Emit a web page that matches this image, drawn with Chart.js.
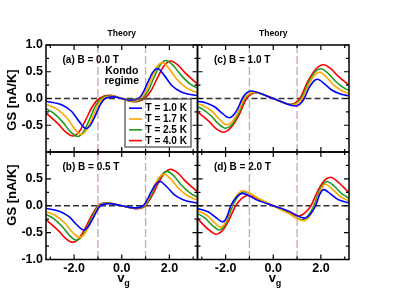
<!DOCTYPE html>
<html><head><meta charset="utf-8">
<script src="https://cdn.jsdelivr.net/npm/chart.js@4.4.1/dist/chart.umd.min.js"></script>
<style>
html,body{margin:0;padding:0;background:#fff;}
#wrap{position:relative;width:395px;height:305px;overflow:hidden;background:#fff;}
#wrap canvas{position:absolute;left:0;top:0;}
</style></head><body>
<div id="wrap">
<canvas id="cA" width="395" height="305"></canvas>
<canvas id="cB" width="395" height="305"></canvas>
<canvas id="cC" width="395" height="305"></canvas>
<canvas id="cD" width="395" height="305"></canvas>
</div>
<script>
// ---------------- data ----------------
const seriesNames = ['T = 1.0 K', 'T = 1.7 K', 'T = 2.5 K', 'T = 4.0 K'];
const panelTitles = ['(a) B = 0.0 T', '(b) B = 0.5 T', '(c) B = 1.0 T', '(d) B = 2.0 T'];
const xTickValues = [-2, 0, 2];
const xMinorTickValues = [-3, -1, 1, 3];
const dividerValues = [-1, 1];
const yTickValuesTop = [1, 0.5, 0, -0.5];
const yTickValuesBottom = [0.5, 0, -0.5, -1];

// Panel (a) B = 0.0 T
const vgA_T10 = [-3.18,-2.5,-2.1,-1.8,-1.5,-1.3,-1.1,-0.9,-0.7,-0.35,0,0.35,0.7,0.9,1.1,1.3,1.5,1.8,2.1,2.5,3.18];
const gsA_T10 = [-0.05,-0.122,-0.244,-0.423,-0.56,-0.488,-0.309,-0.115,0,0.03,0,-0.03,0,0.115,0.309,0.488,0.56,0.423,0.244,0.122,0.05];
const vgA_T17 = [-3.18,-2.7,-2.3,-2.0,-1.7,-1.47,-1.24,-1.01,-0.78,-0.39,0,0.39,0.78,1.01,1.24,1.47,1.7,2.0,2.3,2.7,3.18];
const gsA_T17 = [-0.11,-0.202,-0.365,-0.554,-0.67,-0.584,-0.37,-0.137,0,0.04,0,-0.04,0,0.137,0.37,0.584,0.67,0.554,0.365,0.202,0.11];
const vgA_T25 = [-3.18,-2.85,-2.45,-2.15,-1.85,-1.6,-1.355,-1.11,-0.86,-0.43,0,0.43,0.86,1.11,1.355,1.6,1.85,2.15,2.45,2.85,3.18];
const gsA_T25 = [-0.19,-0.279,-0.456,-0.623,-0.71,-0.618,-0.392,-0.146,0,0.05,0,-0.05,0,0.146,0.392,0.618,0.71,0.623,0.456,0.279,0.19];
const vgA_T40 = [-3.18,-2.65,-2.35,-2.05,-1.775,-1.5,-1.225,-0.95,-0.47,0,0.47,0.95,1.225,1.5,1.775,2.05,2.35,2.65,3.18];
const gsA_T40 = [-0.27,-0.483,-0.629,-0.70,-0.61,-0.386,-0.144,0,0.06,0,-0.06,0,0.144,0.386,0.61,0.70,0.629,0.483,0.27];

// Panel (b) B = 0.5 T
const vgB_T10 = [-3.18,-2.6,-2.2,-1.9,-1.6,-1.425,-1.25,-1.075,-0.9,-0.55,0,0.55,0.9,1.075,1.25,1.425,1.6,1.9,2.2,2.6,3.18];
const gsB_T10 = [-0.05,-0.107,-0.209,-0.349,-0.45,-0.40,-0.272,-0.119,0,0.04,0,-0.04,0,0.119,0.272,0.40,0.45,0.349,0.209,0.107,0.05];
const vgB_T17 = [-3.18,-2.77,-2.37,-2.07,-1.77,-1.5625,-1.355,-1.1475,-0.94,-0.58,0,0.58,0.94,1.1475,1.355,1.5625,1.77,2.07,2.37,2.77,3.18];
const gsB_T17 = [-0.11,-0.185,-0.33,-0.493,-0.59,-0.525,-0.356,-0.156,0,0.045,0,-0.045,0,0.156,0.356,0.525,0.59,0.493,0.33,0.185,0.11];
const vgB_T25 = [-3.18,-2.9,-2.5,-2.2,-1.9,-1.6675,-1.435,-1.2025,-0.97,-0.6,0,0.6,0.97,1.2025,1.435,1.6675,1.9,2.2,2.5,2.9,3.18];
const gsB_T25 = [-0.16,-0.226,-0.386,-0.549,-0.64,-0.569,-0.387,-0.169,0,0.05,0,-0.05,0,0.169,0.387,0.569,0.64,0.549,0.386,0.226,0.16];
const vgB_T40 = [-3.18,-2.65,-2.35,-2.05,-1.7875,-1.525,-1.2625,-1.0,-0.62,0,0.62,1.0,1.2625,1.525,1.7875,2.05,2.35,2.65,3.18];
const gsB_T40 = [-0.26,-0.467,-0.61,-0.68,-0.605,-0.411,-0.18,0,0.055,0,-0.055,0,0.18,0.411,0.605,0.68,0.61,0.467,0.26];

// Panel (c) B = 1.0 T
const vgC_T10 = [-3.18,-2.85,-2.45,-2.15,-1.85,-1.69,-1.49,-1.3,-1.125,-0.95,0,0.95,1.125,1.3,1.49,1.69,1.85,2.15,2.45,2.85,3.18];
const gsC_T10 = [-0.05,-0.08,-0.159,-0.274,-0.36,-0.321,-0.188,0,0.099,0.14,0,-0.14,-0.099,0,0.188,0.321,0.36,0.274,0.159,0.08,0.05];
const vgC_T17 = [-3.18,-2.95,-2.55,-2.25,-1.95,-1.73,-1.48,-1.22,-1.02,-0.82,0,0.82,1.02,1.22,1.48,1.73,1.95,2.25,2.55,2.95,3.18];
const gsC_T17 = [-0.095,-0.131,-0.246,-0.393,-0.49,-0.437,-0.256,0,0.085,0.12,0,-0.12,-0.085,0,0.256,0.437,0.49,0.393,0.246,0.131,0.095];
const vgC_T25 = [-3.18,-3.0,-2.6,-2.3,-2.0,-1.75,-1.47,-1.18,-0.99,-0.8,0,0.8,0.99,1.18,1.47,1.75,2.0,2.3,2.6,3.0,3.18];
const gsC_T25 = [-0.15,-0.189,-0.327,-0.472,-0.555,-0.495,-0.29,0,0.081,0.115,0,-0.115,-0.081,0,0.29,0.495,0.555,0.472,0.327,0.189,0.15];
const vgC_T40 = [-3.18,-2.7,-2.4,-2.1,-1.81,-1.46,-1.12,-0.935,-0.75,0,0.75,0.935,1.12,1.46,1.81,2.1,2.4,2.7,3.18];
const gsC_T40 = [-0.25,-0.429,-0.564,-0.63,-0.561,-0.329,0,0.078,0.11,0,-0.11,-0.078,0,0.329,0.561,0.63,0.564,0.429,0.25];

// Panel (d) B = 2.0 T
const vgD_T10 = [-3.18,-2.72,-2.42,-2.12,-1.95,-1.78,-1.54,-1.3,-0.65,0,0.65,1.3,1.54,1.78,1.95,2.12,2.42,2.72,3.18];
const gsD_T10 = [-0.05,-0.115,-0.214,-0.30,-0.212,0,0.163,0.23,0.10,0,-0.10,-0.23,-0.163,0,0.212,0.30,0.214,0.115,0.05];
const vgD_T17 = [-3.18,-2.79,-2.49,-2.19,-1.98,-1.76,-1.52,-1.28,-0.64,0,0.64,1.28,1.52,1.76,1.98,2.19,2.49,2.79,3.18];
const gsD_T17 = [-0.09,-0.177,-0.304,-0.40,-0.283,0,0.198,0.28,0.14,0,-0.14,-0.28,-0.198,0,0.283,0.40,0.304,0.177,0.09];
const vgD_T25 = [-3.18,-2.86,-2.56,-2.26,-1.98,-1.7,-1.46,-1.22,-0.61,0,0.61,1.22,1.46,1.7,1.98,2.26,2.56,2.86,3.18];
const gsD_T25 = [-0.14,-0.232,-0.364,-0.45,-0.318,0,0.184,0.26,0.13,0,-0.13,-0.26,-0.184,0,0.318,0.45,0.364,0.232,0.14];
const vgD_T40 = [-3.18,-2.7,-2.4,-2.15,-1.87,-1.58,-1.33,-1.08,-0.54,0,0.54,1.08,1.33,1.58,1.87,2.15,2.4,2.7,3.18];
const gsD_T40 = [-0.24,-0.45,-0.53,-0.472,-0.277,0,0.134,0.19,0.095,0,-0.095,-0.19,-0.134,0,0.277,0.472,0.53,0.45,0.24];

// ---------------- styling / layout ----------------
const FONT = '"Liberation Sans", Arial, Helvetica, sans-serif';
const lineColors = ['#0000ff', '#ffa500', '#1f9a1f', '#ff0000'];

function pts(xs, ys) { return xs.map((v, i) => ({x: v, y: ys[i]})); }

const guides = {
  id: 'guides',
  beforeDatasetsDraw(chart) {
    const {ctx, chartArea: a, scales: {x, y}} = chart;
    ctx.save();
    ctx.beginPath(); ctx.rect(a.left, a.top, a.right - a.left, a.bottom - a.top); ctx.clip();
    ctx.strokeStyle = '#cfa5a5'; ctx.lineWidth = 1.3; ctx.setLineDash([8, 3]);
    dividerValues.forEach(v => {
      const px = x.getPixelForValue(v);
      ctx.beginPath(); ctx.moveTo(px, a.top); ctx.lineTo(px, a.bottom); ctx.stroke();
    });
    ctx.strokeStyle = '#333'; ctx.lineWidth = 1.4; ctx.setLineDash([6, 3]);
    const py = y.getPixelForValue(0);
    ctx.beginPath(); ctx.moveTo(a.left, py); ctx.lineTo(a.right, py); ctx.stroke();
    ctx.restore();
  },
  afterDraw(chart, args, o) {
    const {ctx, chartArea: a, scales: {x, y}} = chart;
    ctx.save();
    ctx.strokeStyle = '#000'; ctx.lineWidth = 1.5; ctx.setLineDash([]);
    ctx.strokeRect(a.left, a.top, a.right - a.left, a.bottom - a.top);
    ctx.lineWidth = 1.2;
    const xt = xTickValues.map(v => [v, 5]).concat(xMinorTickValues.map(v => [v, 3]));
    xt.forEach(([v, len]) => {
      const px = x.getPixelForValue(v);
      ctx.beginPath();
      ctx.moveTo(px, a.bottom); ctx.lineTo(px, a.bottom - len);
      ctx.moveTo(px, a.top); ctx.lineTo(px, a.top + len);
      ctx.stroke();
    });
    for (let k = -4; k <= 4; k++) {
      const v = k * 0.25;
      const len = (k % 2 === 0) ? 5 : 3;
      const py = y.getPixelForValue(v);
      ctx.beginPath();
      ctx.moveTo(a.left, py); ctx.lineTo(a.left + len, py);
      ctx.moveTo(a.right, py); ctx.lineTo(a.right - len, py);
      ctx.stroke();
    }
    ctx.fillStyle = '#000';
    ctx.font = 'bold 10px ' + FONT; ctx.textAlign = 'left'; ctx.textBaseline = 'middle';
    ctx.fillText(o.label, a.left + 16.5, a.top + 15);
    const cx = (a.left + a.right) / 2;
    if (o.top) {
      ctx.font = 'bold 8.5px ' + FONT; ctx.textAlign = 'center';
      ctx.fillText('Theory', cx, a.top - 11);
    }
    if (o.left) {
      ctx.save();
      ctx.translate(12, o.yTitleY);
      ctx.rotate(-Math.PI / 2);
      ctx.font = 'bold 13px ' + FONT; ctx.textAlign = 'center'; ctx.textBaseline = 'middle';
      ctx.fillText('GS [nA/K]', 0, 0);
      ctx.restore();
    }
    if (o.bottom) {
      ctx.font = 'bold 13px ' + FONT; ctx.textAlign = 'left'; ctx.textBaseline = 'middle';
      ctx.fillText('v', cx - 4.5, a.bottom + 19);
      ctx.font = 'bold 9px ' + FONT;
      ctx.fillText('g', cx + 2.5, a.bottom + 24);
    }
    if (o.kondo) {
      ctx.font = 'bold 10.5px ' + FONT; ctx.textAlign = 'center'; ctx.textBaseline = 'middle';
      ctx.fillText('Kondo', x.getPixelForValue(0), 71);
      ctx.fillText('regime', x.getPixelForValue(0), 81.5);
      ctx.strokeStyle = '#555'; ctx.lineWidth = 1.3;
      ctx.strokeRect(125, 99, 66, 48);
      ctx.font = 'bold 10px ' + FONT; ctx.textAlign = 'left';
      seriesNames.forEach((n, i) => {
        const yy = 108.2 + i * 10.8;
        ctx.strokeStyle = lineColors[i]; ctx.lineWidth = 1.6;
        ctx.beginPath(); ctx.moveTo(129, yy); ctx.lineTo(142, yy); ctx.stroke();
        ctx.fillStyle = '#000';
        ctx.fillText(n, 145.5, yy + 0.5);
      });
    }
    ctx.restore();
  }
};

function makePanel(id, seriesX, seriesY, cfg) {
  const datasets = seriesX.map((xs, i) => ({
    label: seriesNames[i],
    data: pts(xs, seriesY[i]),
    showLine: true,
    borderColor: lineColors[i],
    borderWidth: 1.6,
    pointRadius: 0,
    cubicInterpolationMode: 'monotone',
    fill: false
  }));
  return new Chart(document.getElementById(id), {
    type: 'scatter',
    data: {datasets},
    options: {
      responsive: false, animation: false, devicePixelRatio: 1,
      layout: {padding: cfg.pad},
      plugins: {
        legend: {display: false}, tooltip: {enabled: false},
        guides: cfg.guides
      },
      scales: {
        x: {
          type: 'linear', min: -3.18, max: 3.18,
          grid: {display: false, drawTicks: false, tickLength: 0},
          border: {display: false},
          ticks: {display: cfg.xLabels, color: '#000', padding: 2,
                  font: {family: FONT, size: 12.5, weight: 'bold'},
                  callback: v => v.toFixed(1), maxRotation: 0},
          afterBuildTicks: s => { s.ticks = xTickValues.map(v => ({value: v})); },
          afterFit: s => { s.height = cfg.xH; }
        },
        y: {
          type: 'linear', min: -1, max: 1,
          grid: {display: false, drawTicks: false, tickLength: 0},
          border: {display: false},
          ticks: {display: !!cfg.yLabels, color: '#000', padding: 3,
                  font: {family: FONT, size: 12.5, weight: 'bold'},
                  callback: v => v.toFixed(1)},
          afterBuildTicks: s => { s.ticks = (cfg.yLabels || []).map(v => ({value: v})); },
          afterFit: s => { s.width = cfg.yW; }
        }
      }
    },
    plugins: [guides]
  });
}

makePanel('cA', [vgA_T10, vgA_T17, vgA_T25, vgA_T40], [gsA_T10, gsA_T17, gsA_T25, gsA_T40], {
  pad: {left: 0, right: 197.5, top: 45, bottom: 153}, yW: 46, xH: 0,
  yLabels: yTickValuesTop, xLabels: false,
  guides: {label: panelTitles[0], top: true, left: true, bottom: false, kondo: true, yTitleY: 100}
});
makePanel('cB', [vgB_T10, vgB_T17, vgB_T25, vgB_T40], [gsB_T10, gsB_T17, gsB_T25, gsB_T40], {
  pad: {left: 0, right: 197.5, top: 152, bottom: 25.5}, yW: 46, xH: 20,
  yLabels: yTickValuesBottom, xLabels: true,
  guides: {label: panelTitles[1], top: false, left: true, bottom: true, kondo: false, yTitleY: 195}
});
makePanel('cC', [vgC_T10, vgC_T17, vgC_T25, vgC_T40], [gsC_T10, gsC_T17, gsC_T25, gsC_T40], {
  pad: {left: 197.5, right: 46, top: 45, bottom: 153}, yW: 0, xH: 0,
  yLabels: null, xLabels: false,
  guides: {label: panelTitles[2], top: true, left: false, bottom: false, kondo: false}
});
makePanel('cD', [vgD_T10, vgD_T17, vgD_T25, vgD_T40], [gsD_T10, gsD_T17, gsD_T25, gsD_T40], {
  pad: {left: 197.5, right: 46, top: 152, bottom: 25.5}, yW: 0, xH: 20,
  yLabels: null, xLabels: true,
  guides: {label: panelTitles[3], top: false, left: false, bottom: true, kondo: false}
});
</script>
</body></html>
